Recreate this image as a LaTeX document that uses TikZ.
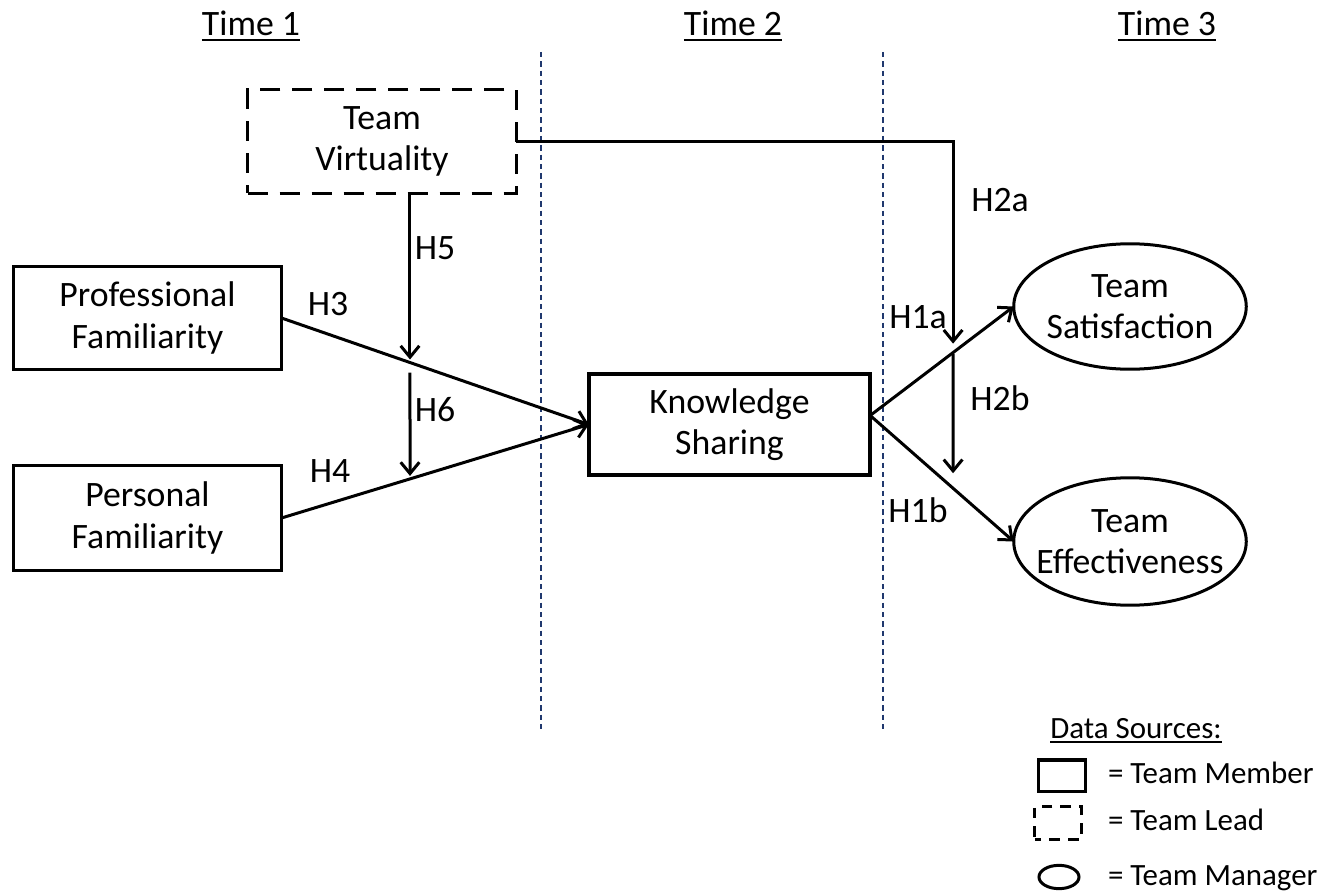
\documentclass[tikz,border=0pt]{standalone}
\usepackage{fontspec}
\setmainfont{Carlito}
\usetikzlibrary{arrows.meta,shapes.geometric,calc}
\definecolor{guide}{RGB}{32,56,110}
\newcommand\bodysize{\fontsize{26.8pt}{31pt}\selectfont}
\newcommand\keysize{\fontsize{23.2pt}{27pt}\selectfont}
\begin{document}
\begin{tikzpicture}[x=0.75pt,y=-0.75pt,
  every node/.style={inner sep=0pt,outer sep=0pt},
  box/.style={draw,rectangle,line width=2.6pt,align=center,font=\bodysize},
  leadbox/.style={box,dash pattern=on 15pt off 9pt},
  outcome/.style={draw,ellipse,line width=2.25pt},
  conn/.style={line width=2.25pt,-{Straight Barb[length=8.5pt,width=14pt,line width=2.25pt]}},
  hlabel/.style={anchor=base,font=\bodysize},
  phase/.style={anchor=base,font=\bodysize},
  phaseline/.style={guide,line width=1.1pt,dash pattern=on 4pt off 3pt},
  rule/.style={line width=1.6pt},
  keytext/.style={anchor=base west,font=\keysize}
]
\useasboundingbox (0,0) rectangle (1343,892);

% time periods and separators
\node[phase] (t1) at (251,36) {Time 1};
\node[phase] (t2) at (733,36) {Time 2};
\node[phase] (t3) at (1167,36) {Time 3};
\foreach \t in {t1,t2,t3}
  \draw[rule] ([yshift=-3pt]\t.base west) -- ([yshift=-3pt]\t.base east);
\draw[phaseline] (541,52) -- (541,733);
\draw[phaseline] (883,52) -- (883,733);

% constructs
\node[leadbox,minimum width=201.4pt,minimum height=77.6pt] (TV) at (382,141.5) {Team\\Virtuality};
\node[box,minimum width=201pt,minimum height=77pt] (PF) at (147.5,318) {Professional\\Familiarity};
\node[box,minimum width=201pt,minimum height=78.5pt] (PerF) at (147.5,518) {Personal\\Familiarity};
\node[box,minimum width=211pt,minimum height=76pt] (KS) at (729.5,424.5) {Knowledge\\Sharing};
\node[outcome,minimum width=174.4pt,minimum height=94.1pt] (Sat) at (1130,306.5) {};
\node[align=center,font=\bodysize] (SatT) at (Sat.center) {Team\\Satisfaction};
\node[outcome,minimum width=174.4pt,minimum height=95.6pt] (Eff) at (1130,541.5) {};
\node[align=center,font=\bodysize] (EffT) at (Eff.center) {Team\\Effectiveness};

% main paths
\coordinate (ksout) at ($(KS.east)+(0,-9)$);
\draw[conn] (PF.east) -- (KS.west);
\draw[conn] (PerF.east) -- (KS.west);
\draw[conn] (ksout) -- (Sat.west);
\draw[conn] (ksout) -- (Eff.west);

% moderation points
\coordinate (c3) at (intersection of PF.east--KS.west and 410,100--410,600);
\coordinate (c4) at (intersection of PerF.east--KS.west and 410,100--410,600);
\coordinate (c1a) at (intersection of ksout--Sat.west and 953,100--953,600);
\coordinate (c1b) at (intersection of ksout--Eff.west and 953,100--953,600);

\draw[conn] (TV.south -| c3) -- ($(c3)+(0,-3)$);
\draw[conn] ($(c3)+(0,10)$) -- ($(c4)+(0,-3)$);
\draw[conn] (TV.east) -| ($(c1a)+(0,-9)$);
\draw[conn] ($(c1a)+(0,1)$) -- ($(c1b)+(0,-15)$);

% hypothesis labels
\node[hlabel] (h5) at (435,259) {H5};
\node[hlabel] (h3) at (328,315) {H3};
\node[hlabel] (h6) at (435,421) {H6};
\node[hlabel] (h4) at (330,482) {H4};
\node[hlabel] (h2a) at (1000,211) {H2a};
\node[hlabel] (h1a) at (918,328) {H1a};
\node[hlabel] (h2b) at (1000,410) {H2b};
\node[hlabel] (h1b) at (918,522) {H1b};

% key to data sources
\node[anchor=base,font=\keysize] (ds) at (1136,738) {Data Sources:};
\draw[rule] ([yshift=-3pt]ds.base west) -- ([yshift=-3pt]ds.base east);
\node[draw,line width=2.6pt,minimum width=34.9pt,minimum height=23.6pt] (kmem) at (1062,775.5) {};
\node[draw,line width=2.6pt,dash pattern=on 8pt off 6pt,dash phase=3pt,minimum width=34.9pt,minimum height=24.4pt] (klead) at (1058,823) {};
\node[draw,ellipse,line width=2.25pt,minimum width=30pt,minimum height=17.5pt] (kman) at (1059,877) {};
\node[keytext] (tmem) at (1108,783) {= Team Member};
\node[keytext] (tlead) at (1108,830) {= Team Lead};
\node[keytext] (tman) at (1108,885) {= Team Manager};
\end{tikzpicture}
\end{document}
